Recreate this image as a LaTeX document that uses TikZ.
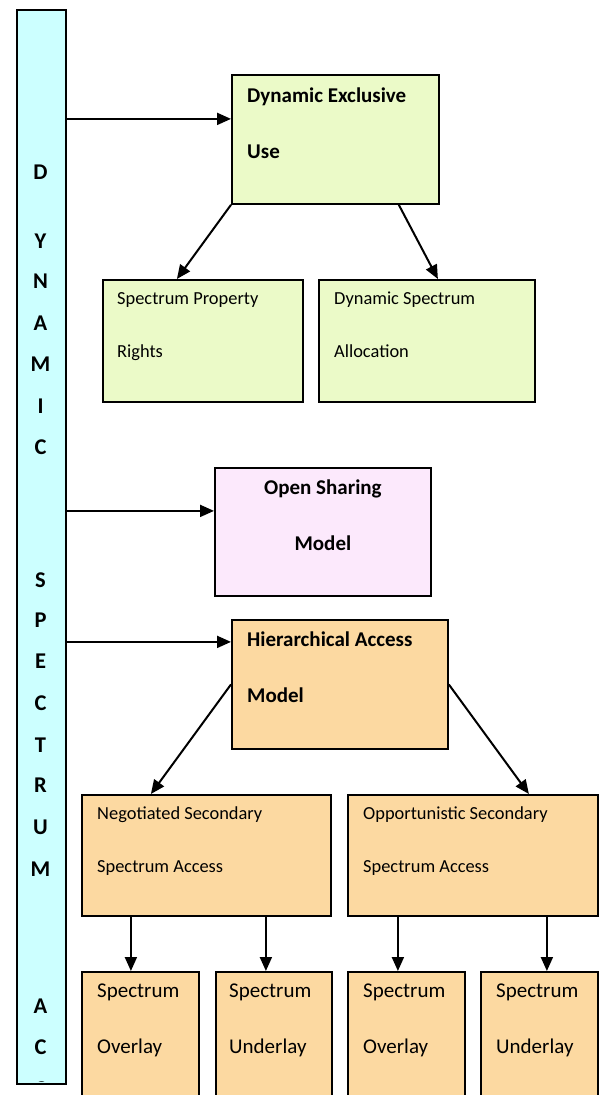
\documentclass[tikz,border=0pt]{standalone}
\usepackage{fontspec}
\setmainfont{Carlito}
\usetikzlibrary{arrows.meta}
\definecolor{barcyan}{RGB}{204,255,255}
\definecolor{usegreen}{RGB}{235,250,200}
\definecolor{openpink}{RGB}{252,233,252}
\definecolor{hierorange}{RGB}{252,217,161}
\tikzset{
  box/.style={draw, line width=1.8pt, anchor=north west, inner sep=0pt},
  boldtxt/.style={anchor=base west, align=left, inner sep=0pt, font=\fontsize{21}{56}\selectfont\bfseries},
  plaintxt/.style={anchor=base west, align=left, inner sep=0pt, font=\fontsize{18.4}{53}\selectfont},
  bigtxt/.style={plaintxt, font=\fontsize{21}{56}\selectfont},
  barletter/.style={font=\fontsize{22.5}{26}\selectfont\bfseries, inner sep=0pt},
  arr/.style={line width=2pt, -{Triangle[length=14pt,width=12pt]}}
}
\begin{document}
\begin{tikzpicture}[x=1pt, y=-1pt]
    \clip (0,0) rectangle (599,1095);

    % Draw the vertical bar
    \node[box, fill=barcyan, minimum width=49pt, minimum height=1074pt] (bar) at (16,9) {};
    \foreach \l/\y [count=\i] in {D/172, Y/241, N/281, A/323, M/364, I/406, C/447,
        S/580, P/620, E/661, C/703, T/745, R/785, U/827, M/869, A/1006, C/1047}
        \node[barletter] (l\i) at (40.5,\y) {\l};
    \begin{scope}
        \clip (16,1076) rectangle (65,1081);
        \node[barletter] (lcut) at (40.5,1089) {C};
    \end{scope}

    % Draw boxes
    \node[box, fill=usegreen, minimum width=207pt, minimum height=129pt] (deu) at (231,74) {};
    \node[box, fill=usegreen, minimum width=200pt, minimum height=122pt] (spr) at (102,279) {};
    \node[box, fill=usegreen, minimum width=216pt, minimum height=122pt] (dsa) at (318,279) {};
    \node[box, fill=openpink, minimum width=216pt, minimum height=128pt] (osm) at (214,467) {};
    \node[box, fill=hierorange, minimum width=216pt, minimum height=129pt] (ham) at (231,619) {};
    \node[box, fill=hierorange, minimum width=249pt, minimum height=121pt] (neg) at (81,794) {};
    \node[box, fill=hierorange, minimum width=250pt, minimum height=121pt] (opp) at (347,794) {};
    \node[box, fill=hierorange, minimum width=117pt, minimum height=140pt] (ov1) at (81,971) {};
    \node[box, fill=hierorange, minimum width=116pt, minimum height=140pt] (un1) at (215,971) {};
    \node[box, fill=hierorange, minimum width=117pt, minimum height=140pt] (ov2) at (347,971) {};
    \node[box, fill=hierorange, minimum width=117pt, minimum height=140pt] (un2) at (480,971) {};

    % Draw texts (base = last line)
    \node[boldtxt] (deut) at ([shift={(16,84)}]deu.north west) {Dynamic Exclusive\\Use};
    \node[plaintxt] (sprt) at ([shift={(15,78)}]spr.north west) {Spectrum Property\\Rights};
    \node[plaintxt] (dsat) at ([shift={(16,78)}]dsa.north west) {Dynamic Spectrum\\Allocation};
    \node[boldtxt, anchor=base, align=center] (osmt) at ([shift={(0,83)}]osm.north) {Open Sharing\\Model};
    \node[boldtxt] (hamt) at ([shift={(16,83)}]ham.north west) {Hierarchical Access\\Model};
    \node[plaintxt] (negt) at ([shift={(16,78)}]neg.north west) {Negotiated Secondary\\Spectrum Access};
    \node[plaintxt] (oppt) at ([shift={(16,78)}]opp.north west) {Opportunistic Secondary\\Spectrum Access};
    \node[bigtxt] (ov1t) at ([shift={(16,82)}]ov1.north west) {Spectrum\\Overlay};
    \node[bigtxt] (un1t) at ([shift={(14,82)}]un1.north west) {Spectrum\\Underlay};
    \node[bigtxt] (ov2t) at ([shift={(16,82)}]ov2.north west) {Spectrum\\Overlay};
    \node[bigtxt] (un2t) at ([shift={(16,82)}]un2.north west) {Spectrum\\Underlay};

    % Arrow ends
    \coordinate (deuin) at ([yshift=20.5pt]deu.west);
    \coordinate (osmin) at ([yshift=21pt]osm.west);
    \coordinate (hamin) at ([yshift=42.5pt]ham.west);
    \coordinate (ov1in) at ([xshift=-9.5pt]ov1.north);
    \coordinate (un1in) at ([xshift=-8pt]un1.north);
    \coordinate (ov2in) at ([xshift=-8.5pt]ov2.north);
    \coordinate (un2in) at ([xshift=7.5pt]un2.north);

    % Draw arrows
    \draw[arr] (bar.east |- deuin) -- (deuin);
    \draw[arr] (bar.east |- osmin) -- (osmin);
    \draw[arr] (bar.east |- hamin) -- (hamin);
    \draw[arr] (deu.south west) -- ([xshift=-26pt]spr.north);
    \draw[arr] ([xshift=-41pt]deu.south east) -- ([xshift=11pt]dsa.north);
    \draw[arr] (ham.west) -- ([xshift=-55.5pt]neg.north);
    \draw[arr] (ham.east) -- ([xshift=56pt]opp.north);
    \draw[arr] (ov1in |- neg.south) -- (ov1in);
    \draw[arr] (un1in |- neg.south) -- (un1in);
    \draw[arr] (ov2in |- opp.south) -- (ov2in);
    \draw[arr] (un2in |- opp.south) -- (un2in);
\end{tikzpicture}
\end{document}
